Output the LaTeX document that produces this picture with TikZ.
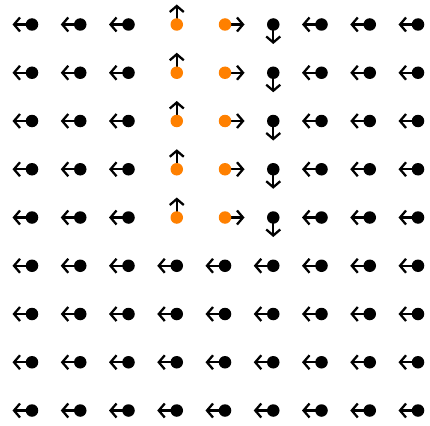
\documentclass[tikz,border=0pt]{standalone}
\usetikzlibrary{arrows.meta}
\definecolor{dotorange}{RGB}{255,128,0}
\begin{document}
\begin{tikzpicture}[x=1pt,y=-1pt,
  vec/.style={line width=2.4pt,-{Straight Barb[length=6pt,width=14pt,line width=2.3pt]}},
  blk/.style={circle,fill=black,inner sep=0pt,minimum size=12.5pt},
  org/.style={circle,fill=dotorange,inner sep=0pt,minimum size=12.5pt}]
\useasboundingbox (0,0) rectangle (430,425);
\foreach \i in {0,...,8}{
  \foreach \j in {0,...,8}{
    \pgfmathsetmacro{\xx}{32+48.25*\i}
    \pgfmathsetmacro{\yy}{24.5+48.25*\j}
    \coordinate (c\i-\j) at (\xx,\yy);
    \ifnum\j<5
      \ifnum\i=3
        \coordinate (e\i-\j) at (\xx,\yy-20);
        \def\st{org}
      \else\ifnum\i=4
        \coordinate (e\i-\j) at (\xx+19.5,\yy);
        \def\st{org}
      \else\ifnum\i=5
        \coordinate (e\i-\j) at (\xx,\yy+19.5);
        \def\st{blk}
      \else
        \coordinate (e\i-\j) at (\xx-19.5,\yy);
        \def\st{blk}
      \fi\fi\fi
    \else
      \coordinate (e\i-\j) at (\xx-19.5,\yy);
      \def\st{blk}
    \fi
    \draw[vec] (c\i-\j) -- (e\i-\j);
    \node[\st] (n\i-\j) at (c\i-\j) {};
  }
}
\end{tikzpicture}
\end{document}
